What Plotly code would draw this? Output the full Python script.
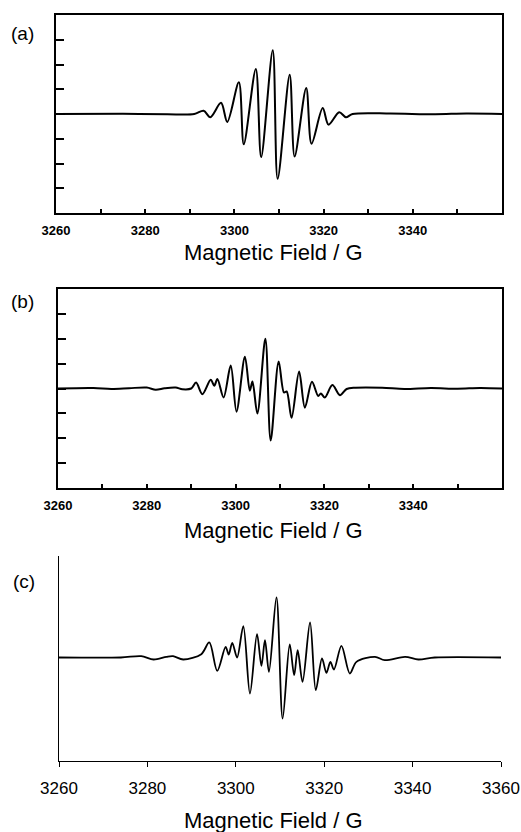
import plotly.graph_objects as go

# ---------------- data ----------------
field_a = [3260, 3275, 3285, 3291, 3293.1, 3294.6, 3297.0, 3298.4, 3301.0, 3302.1,
           3304.8, 3306.0, 3308.6, 3309.7, 3312.4, 3313.5, 3316.1, 3317.3, 3319.8,
           3321.1, 3323.5, 3325.0, 3326.5, 3335, 3345, 3352, 3360]
signal_a = [0, 0.01, -0.01, 0.0, 0.13, -0.13, 0.45, -0.32, 1.28, -1.22,
            1.82, -1.74, 2.58, -2.62, 1.59, -1.72, 1.05, -1.20, 0.24,
            -0.43, 0.07, -0.13, 0.0, 0.02, -0.01, 0.02, 0]

field_b = [3260, 3268, 3272, 3276, 3280, 3282, 3284, 3286.5, 3288, 3290,
           3291.1, 3292.5, 3294.4, 3295.2, 3295.9, 3297.3, 3298.9, 3300.2, 3302.1,
           3303.2, 3303.8, 3304.9, 3306.7, 3307.9, 3309.7, 3310.9, 3311.5, 3312.6,
           3314.3, 3315.6, 3317.2, 3318.6, 3319.2, 3320.1, 3321.8, 3323.5, 3325.0,
           3327, 3333, 3338, 3344, 3350, 3355, 3360]
signal_b = [0, 0.02, -0.02, 0.01, 0.04, -0.05, 0.01, 0.04, -0.03, 0.0,
            0.24, -0.23, 0.35, 0.11, 0.38, -0.36, 0.92, -0.93, 1.28,
            -0.09, 0.28, -1.01, 2.0, -2.09, 1.09, -0.16, -0.12, -1.18,
            0.68, -0.77, 0.27, -0.30, -0.20, -0.36, 0.14, -0.27, -0.02,
            0.03, 0.03, -0.02, 0.02, -0.01, 0.02, 0]

field_c = [3260, 3274, 3278.6, 3281.4, 3284.3, 3285.8, 3288.1, 3292.2, 3294.0, 3295.8,
           3297.7, 3298.4, 3299.2, 3300.3, 3301.7, 3303.2, 3304.8, 3305.8, 3306.6,
           3307.5, 3309.2, 3310.6, 3312.2, 3313.2, 3314.0, 3315.1, 3316.8, 3318.1,
           3319.5, 3320.5, 3321.4, 3322.2, 3323.9, 3325.8, 3327.3, 3331.5, 3333.7,
           3338.3, 3341.3, 3345, 3360]
signal_c = [0, 0, 0.04, -0.06, 0.02, 0.04, -0.06, 0.10, 0.45, -0.40,
            0.32, 0.09, 0.44, 0.0, 0.94, -1.08, 0.70, -0.25, 0.52,
            -0.43, 1.80, -1.83, 0.39, -0.53, 0.22, -0.73, 1.05, -0.98,
            -0.03, -0.46, -0.13, -0.36, 0.35, -0.48, -0.13, 0.02, -0.08,
            0.02, -0.06, 0, 0]

ticks_ab = [3260, 3270, 3280, 3290, 3300, 3310, 3320, 3330, 3340, 3350]
ticktext_ab = ["3260", "", "3280", "", "3300", "", "3320", "", "3340", ""]
yticks_ab = [-3, -2, -1, 0, 1, 2, 3]
ticks_c = [3260, 3280, 3300, 3320, 3340, 3360]
ticktext_c = ["3260", "3280", "3300", "3320", "3340", "3360"]

panel_labels = ["(a)", "(b)", "(c)"]
axis_title = "Magnetic Field / G"

W, H = 521, 832

fig = go.Figure()
fig.add_trace(go.Scatter(x=field_a, y=signal_a, mode="lines", xaxis="x", yaxis="y",
                         line=dict(color="black", width=2, shape="spline", smoothing=0.9),
                         showlegend=False))
fig.add_trace(go.Scatter(x=field_b, y=signal_b, mode="lines", xaxis="x2", yaxis="y2",
                         line=dict(color="black", width=2, shape="spline", smoothing=0.9),
                         showlegend=False))
fig.add_trace(go.Scatter(x=field_c, y=signal_c, mode="lines", xaxis="x3", yaxis="y3",
                         line=dict(color="black", width=1.8, shape="spline", smoothing=0.9),
                         showlegend=False))

def px_y(top, bottom):
    return [1 - bottom / H, 1 - top / H]

def px_x(left, right):
    return [left / W, right / W]

box_x = dict(range=[3260, 3360], tickvals=ticks_ab, ticktext=ticktext_ab,
             ticks="inside", ticklen=4, tickwidth=1.5, tickcolor="black",
             showline=True, linecolor="black", linewidth=1.6, mirror=True,
             showgrid=False, zeroline=False, automargin=False,
             tickfont=dict(family="Liberation Sans, Arial", size=13, color="black", weight="bold"),
             ticklabelstandoff=5)
box_y = dict(range=[-4, 4], tickvals=yticks_ab, showticklabels=False,
             ticks="inside", ticklen=8, tickwidth=1.5, tickcolor="black",
             showline=True, linecolor="black", linewidth=1.6, mirror=True,
             showgrid=False, zeroline=False, automargin=False)

fig.update_layout(
    width=W, height=H, autosize=False,
    margin=dict(l=0, r=0, t=0, b=0, pad=0, autoexpand=False),
    paper_bgcolor="white", plot_bgcolor="white",
    xaxis=dict(box_x, domain=px_x(56, 502), anchor="y"),
    yaxis=dict(box_y, domain=px_y(15, 213), anchor="x"),
    xaxis2=dict(box_x, domain=px_x(58, 502), anchor="y2"),
    yaxis2=dict(box_y, domain=px_y(289, 488), anchor="x2"),
    xaxis3=dict(range=[3260, 3360], tickvals=ticks_c, ticktext=ticktext_c,
                ticks="outside", ticklen=5, tickwidth=1.2, tickcolor="black",
                showline=True, linecolor="black", linewidth=1.3, mirror=False,
                showgrid=False, zeroline=False, domain=px_x(59, 501), anchor="y3",
                automargin=False,
                tickfont=dict(family="Liberation Sans, Arial", size=17, color="black"),
                ticklabelstandoff=6),
    yaxis3=dict(range=[-3.10, 3.04], showticklabels=False, ticks="",
                showline=True, linecolor="black", linewidth=1.3, mirror=False,
                showgrid=False, zeroline=False, domain=px_y(556, 761), anchor="x3",
                automargin=False),
)

title_font = dict(family="Liberation Sans, Arial", size=22, color="black")
for ypx in [252, 530, 820]:
    fig.add_annotation(text=axis_title, x=273 / W, y=1 - ypx / H, xref="paper", yref="paper",
                       showarrow=False, font=title_font, xanchor="center", yanchor="middle")

for lab, (xpx, ypx) in zip(panel_labels, [(22, 34), (22, 301), (24, 581)]):
    fig.add_annotation(text=lab, x=xpx / W, y=1 - ypx / H, xref="paper", yref="paper",
                       showarrow=False, font=dict(family="Liberation Sans, Arial", size=19, color="black"),
                       xanchor="center", yanchor="middle")

fig.write_html(
    "out.html",
    config={"displayModeBar": False},
    post_script="document.body.style.margin='0';document.body.style.padding='0';"
                "document.documentElement.style.overflow='hidden';",
)
